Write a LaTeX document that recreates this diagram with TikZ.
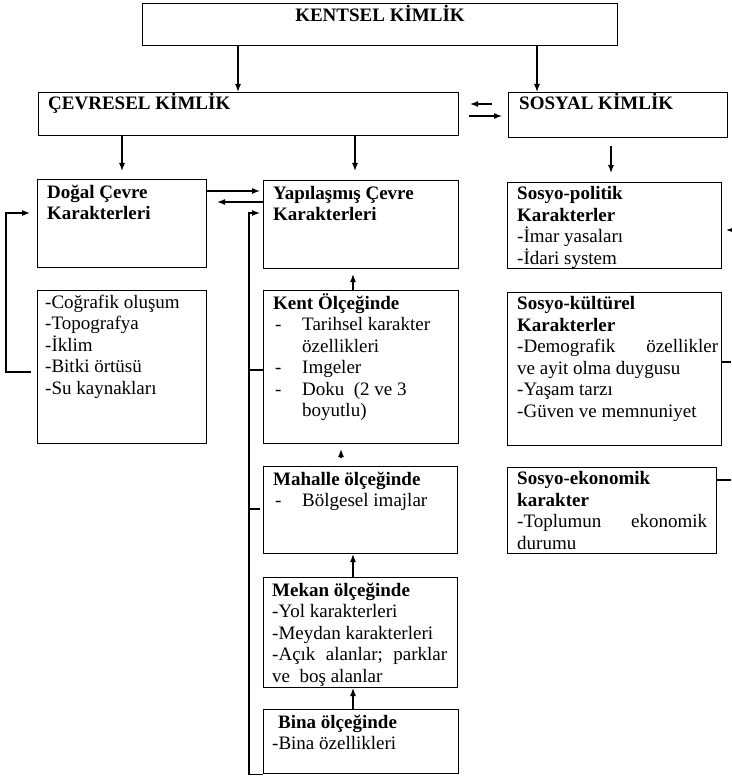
\documentclass[tikz,border=0pt]{standalone}
\usepackage{fontspec}
\setmainfont{Liberation Serif}
\usetikzlibrary{arrows.meta}
\newcommand{\fs}{\fontsize{19}{21.5}\selectfont}
\newcommand{\fst}{\rule{0pt}{17pt}}
\newcommand{\dsh}{\makebox[29pt][l]{\hspace{2pt}-}}
\tikzset{
  box/.style={draw=black, line width=1.1pt, inner sep=0pt, anchor=north west},
  txt/.style={anchor=north west, inner sep=0pt, align=left, font=\fs},
  ln/.style={draw=black, line width=1.1pt},
  arr/.style={ln, -{Latex[length=8pt,width=6pt]}}
}
\begin{document}
\begin{tikzpicture}[x=1pt,y=-1pt]
\useasboundingbox[fill=white] (0,0) rectangle (731,778);

% boxes
\node[box, minimum width=475pt, minimum height=42pt] (kent) at (142,3) {};
\node[box, minimum width=420pt, minimum height=43pt] (cevre) at (38,92) {};
\node[box, minimum width=219pt, minimum height=45pt] (sosyal) at (508,92) {};
\node[box, minimum width=169pt, minimum height=88pt] (dogal) at (37,179) {};
\node[box, minimum width=169pt, minimum height=153pt] (cog) at (37,290) {};
\node[box, minimum width=195pt, minimum height=88pt] (yapi) at (263,180) {};
\node[box, minimum width=195pt, minimum height=153pt] (kentol) at (263,290) {};
\node[box, minimum width=194pt, minimum height=87pt] (mahalle) at (263,466) {};
\node[box, minimum width=194pt, minimum height=110pt] (mekan) at (263,577) {};
\node[box, minimum width=195pt, minimum height=64pt] (bina) at (263,709) {};
\node[box, minimum width=214pt, minimum height=86pt] (spol) at (507,182) {};
\node[box, minimum width=214pt, minimum height=153pt] (skul) at (507,292) {};
\node[box, minimum width=209pt, minimum height=86pt] (seko) at (507,467) {};

% texts
\node[anchor=base, inner sep=0pt, font=\fs\bfseries] (tkent) at ([shift={(238,18.5)}]kent.north west) {KENTSEL KİMLİK};
\node[anchor=base west, inner sep=0pt, font=\fs\bfseries] (tcevre) at ([shift={(10,17.5)}]cevre.north west) {ÇEVRESEL KİMLİK};
\node[anchor=base west, inner sep=0pt, font=\fs\bfseries] (tsosyal) at ([shift={(11,17.5)}]sosyal.north west) {SOSYAL KİMLİK};

\node[txt, font=\fs\bfseries] (tdogal) at ([shift={(10,2)}]dogal.north west) {\fst Doğal Çevre\\Karakterleri};
\node[txt] (tcog) at ([shift={(8,1)}]cog.north west) {\fst -Coğrafik oluşum\\-Topografya\\-İklim\\-Bitki örtüsü\\-Su kaynakları};
\node[txt, font=\fs\bfseries] (tyapi) at ([shift={(10,2)}]yapi.north west) {\fst Yapılaşmış Çevre\\Karakterleri};
\node[txt] (tkentol) at ([shift={(10,2)}]kentol.north west) {\fst\textbf{Kent Ölçeğinde}\\\dsh Tarihsel karakter\\\hspace*{29pt}özellikleri\\\dsh Imgeler\\\dsh Doku\ \ (2 ve 3\\\hspace*{29pt}boyutlu)};
\node[txt] (tmahalle) at ([shift={(10,2)}]mahalle.north west) {\fst\textbf{Mahalle ölçeğinde}\\\dsh Bölgesel imajlar};
\node[txt] (tmekan) at ([shift={(9,2)}]mekan.north west) {\fst\textbf{Mekan ölçeğinde}\\-Yol karakterleri\\-Meydan karakterleri\\\hbox to 175pt{-Açık\hfill alanlar;\hfill parklar}\\ve\ \ boş alanlar};
\node[txt] (tbina) at ([shift={(9,2)}]bina.north west) {\fst\hspace*{6pt}\textbf{Bina ölçeğinde}\\-Bina özellikleri};
\node[txt] (tspol) at ([shift={(10,0.5)}]spol.north west) {\fst\textbf{Sosyo-politik}\\\textbf{Karakterler}\\-İmar yasaları\\-İdari system};
\node[txt] (tskul) at ([shift={(10,0.5)}]skul.north west) {\fst\textbf{Sosyo-kültürel}\\\textbf{Karakterler}\\\hbox to 201pt{-Demografik\hfill özellikler}\\ve ayit olma duygusu\\-Yaşam tarzı\\-Güven ve memnuniyet};
\node[txt] (tseko) at ([shift={(10,0.5)}]seko.north west) {\fst\textbf{Sosyo-ekonomik}\\\textbf{karakter}\\\hbox to 190pt{-Toplumun\hfill ekonomik}\\durumu};

% free ends at the right border
\coordinate (rA) at (731,230);
\coordinate (rB) at (731,362);
\coordinate (rC) at (731,480);

% connectors
\draw[arr] ([xshift=96pt]kent.south west) -- ([xshift=200pt]cevre.north west);
\draw[arr] ([xshift=395pt]kent.south west) -- ([xshift=29pt]sosyal.north west);
\draw[arr] ([shift={(-16,12)}]sosyal.north west) -- ([shift={(11,12)}]cevre.north east);
\draw[arr] ([shift={(10,24)}]cevre.north east) -- ([shift={(-6,24)}]sosyal.north west);
\draw[arr] ([xshift=84pt]cevre.south west) -- ([shift={(85,-8)}]dogal.north west);
\draw[arr] ([xshift=317pt]cevre.south west) -- ([shift={(92,-9)}]yapi.north west);
\draw[arr] ([shift={(103,8)}]sosyal.south west) -- ([shift={(104,-9)}]spol.north west);

\draw[arr] ([shift={(0,12)}]dogal.north east) -- ([shift={(-3,11)}]yapi.north west);
\draw[arr] ([shift={(0,22)}]yapi.north west) -- ([shift={(10,23)}]dogal.north east);
\draw[arr] (bina.south west) -- ++(-14,0) |- ([shift={(-3,33)}]yapi.north west);
\draw[ln] ([shift={(0,80)}]kentol.north west) -- ++(-14,0);
\draw[ln] ([shift={(-3,43)}]mahalle.north west) -- ++(-11,0);
\draw[arr] ([shift={(-6,82)}]cog.north west) -- ++(-25,0) |- ([shift={(-7,34)}]dogal.north west);

\draw[arr] ([xshift=90pt]kentol.north west) -- ([shift={(90,5)}]yapi.south west);
\draw[arr] ([shift={(78,13)}]kentol.south west) -- ([shift={(78,5)}]kentol.south west);
\draw[arr] ([xshift=90pt]mekan.north west) -- ([xshift=90pt]mahalle.south west);
\draw[arr] ([xshift=90pt]bina.north west) -- ([xshift=90pt]mekan.south west);

\draw[arr] (rA) -- ([shift={(4,48)}]spol.north east);
\draw[ln] ([shift={(0,70)}]skul.north east) -- (rB);
\draw[ln] ([shift={(0,13)}]seko.north east) -- (rC);
\end{tikzpicture}
\end{document}
